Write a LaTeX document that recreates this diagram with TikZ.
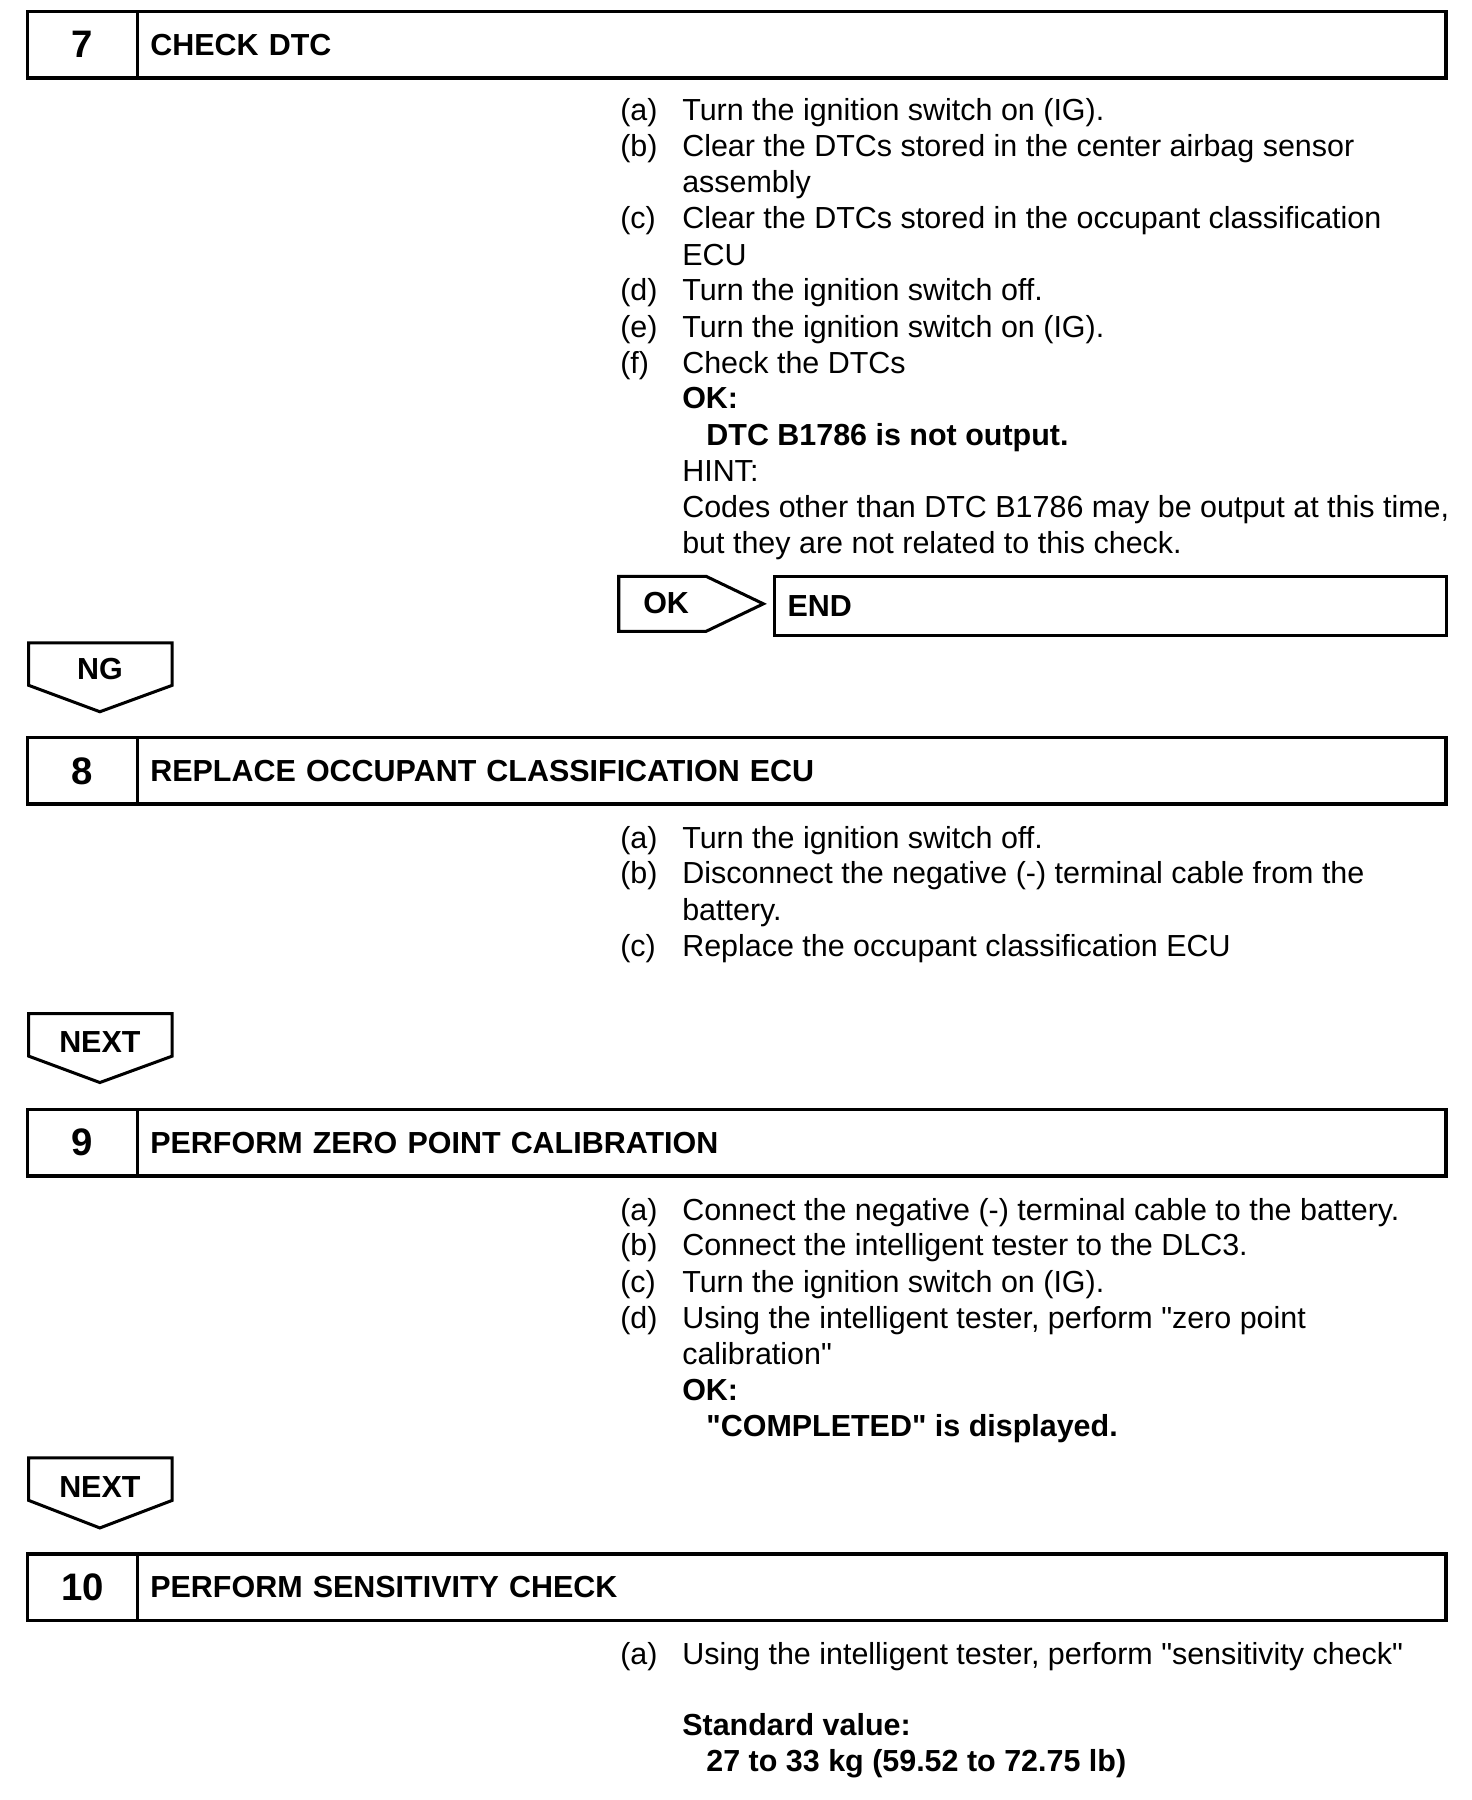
\documentclass[tikz,border=0pt]{standalone}
\usepackage{fontspec}
\setmainfont{Liberation Sans}
\usepackage{tikz}
\usetikzlibrary{positioning}

\tikzset{
	every node/.append style={font=\fontsize{15.1}{18}\selectfont},
	numbox/.style={draw, line width=1.7pt, outer sep=0pt, minimum width=1.92cm,
		minimum height=1.16cm, font=\fontsize{19}{22}\selectfont\bfseries},
	ttlbox/.style={draw, line width=1.7pt, outer sep=0pt, minimum height=1.16cm,
		text width=22.36cm, inner xsep=0.22cm, align=left,
		font=\fontsize{15.1}{18}\selectfont\bfseries},
	tagline/.style={line width=1.5pt, line join=miter},
	tagtext/.style={font=\fontsize{15.1}{18}\selectfont\bfseries, inner sep=0pt},
	lbl/.style={anchor=base west, inner sep=0pt},
	txt/.style={anchor=base west, inner sep=0pt},
	bld/.style={txt, font=\fontsize{15.1}{18}\selectfont\bfseries}
}

\begin{document}
\begin{tikzpicture}[x=0.02cm, y=-0.02cm]
	\useasboundingbox (0,0) rectangle (1282,1568);

	% step 7
	\node[numbox] (n7) at (72,39) {7};
	\node[ttlbox, right=0pt of n7] (h7) {CHECK DTC};
	\node[lbl] (l7a) at (540,105) {(a)};
	\node[txt] (t7a) at (594,105) {Turn the ignition switch on (IG).};
	\node[lbl] (l7b) at (540,136) {(b)};
	\node[txt] (t7b) at (594,136) {Clear the DTCs stored in the center airbag sensor};
	\node[txt] (t7b2) at (594,168) {assembly};
	\node[lbl] (l7c) at (540,199) {(c)};
	\node[txt] (t7c) at (594,199) {Clear the DTCs stored in the occupant classification};
	\node[txt] (t7c2) at (594,231) {ECU};
	\node[lbl] (l7d) at (540,262) {(d)};
	\node[txt] (t7d) at (594,262) {Turn the ignition switch off.};
	\node[lbl] (l7e) at (540,294) {(e)};
	\node[txt] (t7e) at (594,294) {Turn the ignition switch on (IG).};
	\node[lbl] (l7f) at (540,325) {(f)};
	\node[txt] (t7f) at (594,325) {Check the DTCs};
	\node[bld] (ok7) at (594,356) {OK:};
	\node[bld] (std7) at (615,388) {DTC B1786 is not output.};
	\node[txt] (hint7) at (594,419) {HINT:};
	\node[txt] (hnt7a) at (594,451) {Codes other than DTC B1786 may be output at this time,};
	\node[txt] (hnt7b) at (594,482) {but they are not related to this check.};

	% OK -> END
	\draw[tagline] (539,502) -- (615,502) -- (665,526) -- (615,550) -- (539,550) -- cycle;
	\node[tagtext, anchor=west] (okt) at (560,525) {OK};
	\node[draw, line width=1.5pt, outer sep=0pt, minimum height=1.04cm, text width=11.26cm,
		inner xsep=0.22cm, align=left, anchor=west, font=\fontsize{15.1}{18}\selectfont\bfseries]
		(end) at (675,528) {END};

	% NG
	\draw[tagline] (25,560) -- (150,560) -- (150,597) -- (87,620) -- (25,597) -- cycle;
	\node[tagtext] (ng) at (87,583) {NG};

	% step 8
	\node[numbox] (n8) at (72,671.5) {8};
	\node[ttlbox, right=0pt of n8] (h8) {REPLACE OCCUPANT CLASSIFICATION ECU};
	\node[lbl] (l8a) at (540,739) {(a)};
	\node[txt] (t8a) at (594,739) {Turn the ignition switch off.};
	\node[lbl] (l8b) at (540,770) {(b)};
	\node[txt] (t8b) at (594,770) {Disconnect the negative (-) terminal cable from the};
	\node[txt] (t8b2) at (594,802) {battery.};
	\node[lbl] (l8c) at (540,833) {(c)};
	\node[txt] (t8c) at (594,833) {Replace the occupant classification ECU};

	% NEXT
	\draw[tagline] (25,883) -- (150,883) -- (150,920) -- (87,943) -- (25,920) -- cycle;
	\node[tagtext] (nx1) at (87,908) {NEXT};

	% step 9
	\node[numbox] (n9) at (72,995.5) {9};
	\node[ttlbox, right=0pt of n9] (h9) {PERFORM ZERO POINT CALIBRATION};
	\node[lbl] (l9a) at (540,1063) {(a)};
	\node[txt] (t9a) at (594,1063) {Connect the negative (-) terminal cable to the battery.};
	\node[lbl] (l9b) at (540,1094) {(b)};
	\node[txt] (t9b) at (594,1094) {Connect the intelligent tester to the DLC3.};
	\node[lbl] (l9c) at (540,1126) {(c)};
	\node[txt] (t9c) at (594,1126) {Turn the ignition switch on (IG).};
	\node[lbl] (l9d) at (540,1157) {(d)};
	\node[txt] (t9d) at (594,1157) {Using the intelligent tester, perform \textquotedbl zero point};
	\node[txt] (t9d2) at (594,1189) {calibration\textquotedbl};
	\node[bld] (ok9) at (594,1220) {OK:};
	\node[bld] (std9) at (615,1251) {\textquotedbl COMPLETED\textquotedbl{} is displayed.};

	% NEXT
	\draw[tagline] (25,1270) -- (150,1270) -- (150,1307) -- (87,1331) -- (25,1307) -- cycle;
	\node[tagtext] (nx2) at (87,1295) {NEXT};

	% step 10
	\node[numbox] (n10) at (72,1382.5) {10};
	\node[ttlbox, right=0pt of n10] (h10) {PERFORM SENSITIVITY CHECK};
	\node[lbl] (l10a) at (540,1450) {(a)};
	\node[txt] (t10a) at (594,1450) {Using the intelligent tester, perform \textquotedbl sensitivity check\textquotedbl};
	\node[bld] (sv10) at (594,1512) {Standard value:};
	\node[bld] (val10) at (615,1543) {27 to 33 kg (59.52 to 72.75 lb)};
\end{tikzpicture}
\end{document}
